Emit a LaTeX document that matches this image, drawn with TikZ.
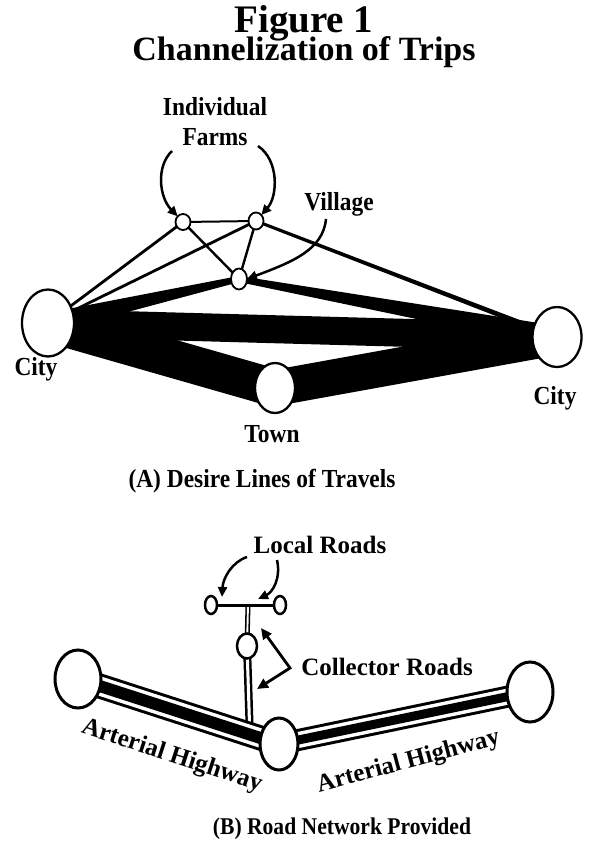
\documentclass[tikz,border=0pt]{standalone}
\usepackage{fontspec}
\setmainfont{Liberation Serif}
\newfontfamily\condfont[FakeStretch=0.9]{Liberation Serif}
\usetikzlibrary{calc,arrows.meta,shapes.geometric,backgrounds}

% tapered desire line between two node centres: half widths #3 and #4
\newcommand\taperband[4]{%
  \fill ($(#1)!#3!90:(#2)$) -- ($(#2)!#4!-90:(#1)$) --
        ($(#2)!#4!90:(#1)$) -- ($(#1)!#3!-90:(#2)$) -- cycle;}

\begin{document}
\begin{tikzpicture}[x=1pt,y=-1pt,
  every node/.style={inner sep=0pt,outer sep=0pt},
  place/.style={ellipse,draw,fill=white,line width=2.3pt},
  dot/.style={place,line width=1.8pt},
  lbl/.style={font=\condfont\bfseries\fontsize{26}{26}\selectfont,anchor=base},
  blbl/.style={font=\bfseries\fontsize{25}{25}\selectfont,anchor=base},
  arr/.style={line width=2.5pt,-{Triangle[length=10pt,width=9pt]}},
  road/.style={line width=#1pt,
     postaction={draw=white,line width=#1pt-6pt},
     postaction={draw=black,line width=#1pt-13pt}},
  collector/.style={line width=#1pt,postaction={draw=white,line width=#1pt*0.38}},
]
\useasboundingbox (0,0) rectangle (608,861);

% ---------- title ----------
\node[font=\bfseries\fontsize{39}{39}\selectfont,anchor=base] (fig) at (304,33) {Figure 1};
\node[font=\bfseries\fontsize{34}{34}\selectfont,anchor=base] (sub) at (304,61) {Channelization of Trips};

% ---------- (A) desire lines ----------
\node[place,minimum width=52pt,minimum height=67pt] (cityL) at (48,323) {};
\node[place,minimum width=49pt,minimum height=60pt] (cityR) at (557,337) {};
\node[place,minimum width=40pt,minimum height=50pt] (town) at (275,388) {};
\node[dot,minimum width=16pt,minimum height=21pt] (village) at (239,279) {};
\node[dot,minimum width=15pt,minimum height=16pt] (farmA) at (183,222) {};
\node[dot,minimum width=15pt,minimum height=17pt] (farmB) at (256,221) {};

\begin{pgfonlayer}{background}
  \taperband{cityL}{cityR}{14pt}{14pt}
  \taperband{cityL}{town}{19pt}{19pt}
  \taperband{town}{cityR}{18pt}{18pt}
  \taperband{village}{cityL}{3pt}{10pt}
  \taperband{village}{cityR}{3pt}{11pt}
  \taperband{farmB}{cityR}{1.5pt}{2.6pt}
  \draw[line width=2.8pt] (farmA) -- (cityL);
  \draw[line width=2.8pt] (farmB) -- (cityL);
  \draw[line width=2.4pt] (farmA) -- (village);
  \draw[line width=2.4pt] (farmB) -- (village);
  \draw[line width=2pt] (farmA) -- (farmB);
\end{pgfonlayer}

\node[lbl] (indiv) at (215,116) {Individual};
\node[lbl] (farms) at (215,146) {Farms};
\node[lbl] (vill) at (339,210) {Village};
\node[lbl] (cityLlbl) at (36,375) {City};
\node[lbl] (townlbl) at (272,442) {Town};
\node[lbl] (cityRlbl) at (555,404) {City};
\node[lbl] (capA) at (262,487) {(A) Desire Lines of Travels};

\draw[arr] (172,151) .. controls (156,166) and (159,197) .. (farmA.north west);
\draw[arr] (258,146) .. controls (279,160) and (278,196) .. (farmB.north east);
\draw[arr] (326,219) .. controls (323,250) and (292,262) .. (village.east);

% ---------- (B) road network ----------
\node[place,line width=3pt,minimum width=46pt,minimum height=58pt] (cityLB) at (78,679) {};
\node[place,line width=3pt,minimum width=38pt,minimum height=52pt] (townB) at (279,744) {};
\node[place,line width=3pt,minimum width=46pt,minimum height=60pt] (cityRB) at (530,692) {};
\node[place,line width=2.5pt,minimum width=20pt,minimum height=25pt] (villB) at (247,646) {};
\node[place,line width=2.5pt,minimum width=12pt,minimum height=18pt] (locL) at (211,605) {};
\node[place,line width=2.5pt,minimum width=12pt,minimum height=18pt] (locR) at (280,605) {};
\coordinate (tee) at (248,605);
\coordinate (junc) at ($(cityLB.center)!0.855!(townB.center)$);

\begin{pgfonlayer}{background}
  \draw[collector=5] (tee) -- (villB);
  \draw[collector=8] (villB) -- (junc);
  \draw[road=25] (cityLB.center) -- (townB.center);
  \draw[road=22] (townB.center) -- (cityRB.center);
\end{pgfonlayer}
\draw[line width=3pt] (locL) -- (locR);

\node[blbl] (local) at (320,553) {Local Roads};
\node[blbl] (coll) at (387,675) {Collector Roads};
\node[blbl,rotate=-18] (artL) at (170,762) {Arterial Highway};
\node[blbl,rotate=15] (artR) at (410,768) {Arterial Highway};
\node[anchor=base,font=\condfont\bfseries\fontsize{24}{24}\selectfont] (capB) at (342,834) {(B) Road Network Provided};

\draw[arr] (247,557) .. controls (232,562) and (223,578) .. (222,597);
\draw[arr] (277,560) .. controls (281,578) and (273,592) .. (258,599);
\coordinate (cv) at (290,668);
\coordinate (tipU) at (261,628);
\coordinate (tipD) at (257,689);
\draw[line width=2.8pt,{Triangle[length=11pt,width=10pt]}-{Triangle[length=11pt,width=10pt]},line join=miter]
  (tipU) -- (cv) -- (tipD);
\end{tikzpicture}
\end{document}
